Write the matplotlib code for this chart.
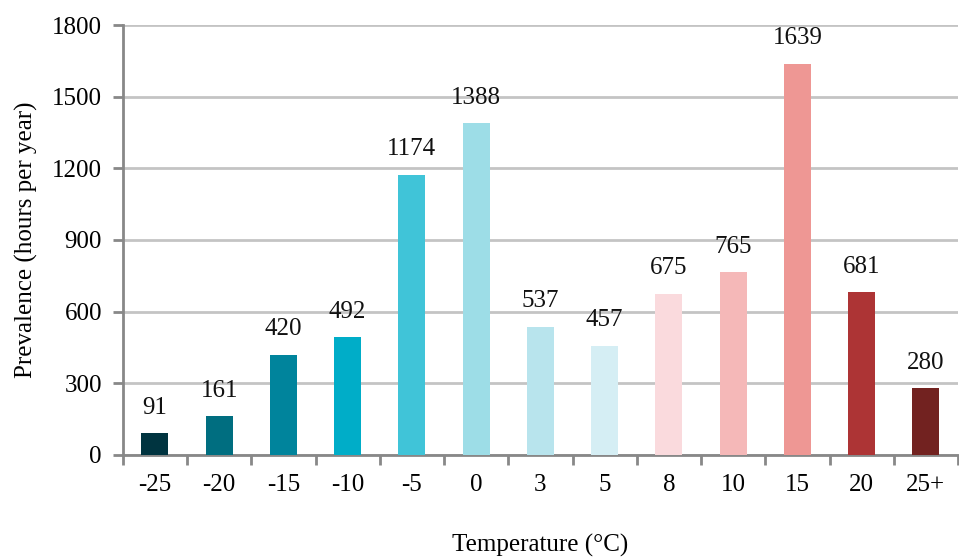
"""Prevalence of outdoor temperature bins (hours per year)."""
import matplotlib
matplotlib.use("Agg")
import matplotlib.pyplot as plt
import numpy as np

categories = ["-25", "-20", "-15", "-10", "-5", "0", "3", "5", "8", "10", "15", "20", "25+"]
hours = [91, 161, 420, 492, 1174, 1388, 537, 457, 675, 765, 1639, 681, 280]
bar_colors = ["#003440", "#006e80", "#00849c", "#00adc8", "#40c4d8", "#9ddde7", "#b8e4ed",
              "#d5eef4", "#fadadd", "#f5b8b8", "#ee9794", "#ad3435", "#722220"]
y_ticks = [0, 300, 600, 900, 1200, 1500, 1800]

plt.rcParams["font.family"] = ["Liberation Serif", "DejaVu Serif"]

fig = plt.figure(figsize=(9.59, 5.58), dpi=100)
ax = fig.add_axes([0.128, 0.185, 0.871, 0.770])

x = np.arange(len(categories))
ax.bar(x, hours, width=0.42, color=bar_colors, zorder=3)
for xi, v in zip(x, hours):
    ax.text(xi, v + 60, str(v), ha="center", va="bottom", fontsize=18, color="#111111")

ax.set_xlim(-0.5, len(categories) - 0.5)
ax.set_ylim(0, 1800)
ax.set_yticks(y_ticks)
ax.tick_params(axis="y", labelsize=18, length=7, width=2, color="#888888", pad=8)
ax.yaxis.grid(True, color="#c4c4c4", linewidth=2, zorder=0)

ax.set_xticks(x)
ax.set_xticklabels(categories)
ax.tick_params(axis="x", which="major", length=0, labelsize=18, pad=14)
ax.set_xticks(np.arange(-0.5, len(categories), 1), minor=True)
ax.tick_params(axis="x", which="minor", length=7, width=2, color="#888888")

for side in ["top", "right"]:
    ax.spines[side].set_visible(False)
for side in ["left", "bottom"]:
    ax.spines[side].set_color("#888888")
    ax.spines[side].set_linewidth(2)

ax.set_ylabel("Prevalence (hours per year)", fontsize=18, labelpad=10)
fig.text(0.563, 0.023, "Temperature (\u00b0C)", ha="center", va="center", fontsize=18)

fig.savefig("out.png", dpi=100)
